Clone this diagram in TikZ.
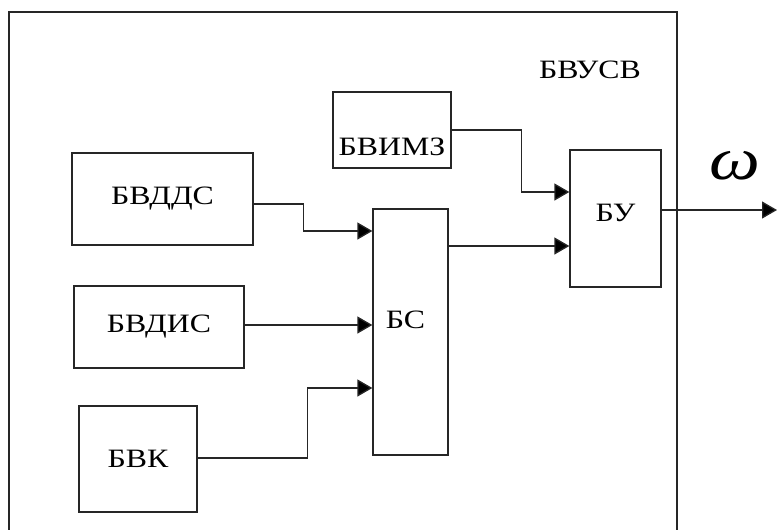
\documentclass[tikz,border=0pt]{standalone}
\usepackage{fontspec}
\setmainfont{Liberation Serif}[FakeStretch=1.2]
\usepackage{tikz}
\usetikzlibrary{arrows.meta}
\definecolor{lineg}{HTML}{262626}
\tikzset{
  blk/.style={draw=lineg, line width=1.3pt, rectangle, inner sep=0pt, font=\fontsize{26.5}{30}\selectfont},
  txt/.style={font=\fontsize{26.5}{30}\selectfont, inner sep=0pt},
  fl/.style={-{Triangle[length=15pt, width=17pt, fill=black]}, line width=1.3pt, draw=lineg},
}
\begin{document}
\begin{tikzpicture}[x=1pt, y=-1pt]
  \useasboundingbox (0,0) rectangle (777,530);
  \clip (0,0) rectangle (777,530);
  \draw[draw=lineg, line width=1.3pt] (9,12) rectangle (677,560);
  \node[txt] (frm) at (590,70) {БВУСВ};
  \node[blk, minimum width=118pt, minimum height=76pt,
        label={[txt, yshift=-17pt]center:БВИМЗ}] (imz) at (392,130) {};
  \node[blk, minimum width=181pt, minimum height=92pt] (dds) at (162.5,199) {БВДДС};
  \node[blk, minimum width=170pt, minimum height=82pt] (dis) at (159,327) {БВДИС};
  \node[blk, minimum width=118pt, minimum height=106pt] (bvk) at (138,459) {БВК};
  \node[blk, minimum width=75pt, minimum height=246pt,
        label={[txt, xshift=-5pt, yshift=12pt]center:БС}] (bs) at (410.5,332) {};
  \node[blk, minimum width=91pt, minimum height=137pt,
        label={[txt, yshift=6pt]center:БУ}] (bu) at (615.5,218.5) {};
  \coordinate (out) at (777,210);
  \node[txt, font=\fontsize{60}{60}\selectfont\itshape] (om) at (735,166) {ω};
  % inputs of the adder
  \draw[fl] ([yshift=-5pt]dds.east) -- ++(50,0) |- ([yshift=101pt]bs.west);
  \draw[fl] ([yshift=2pt]dis.east) -- ([yshift=7pt]bs.west);
  \draw[fl] ([yshift=1pt]bvk.east) -- ++(110,0) |- ([yshift=-56pt]bs.west);
  % control unit
  \draw[fl] (imz.east) -- ++(70,0) |- ([yshift=26.5pt]bu.west);
  \draw[fl] ([yshift=86pt]bs.east) -- ([yshift=-27.5pt]bu.west);
  \draw[fl] ([yshift=8.5pt]bu.east) -- (out);
\end{tikzpicture}
\end{document}
